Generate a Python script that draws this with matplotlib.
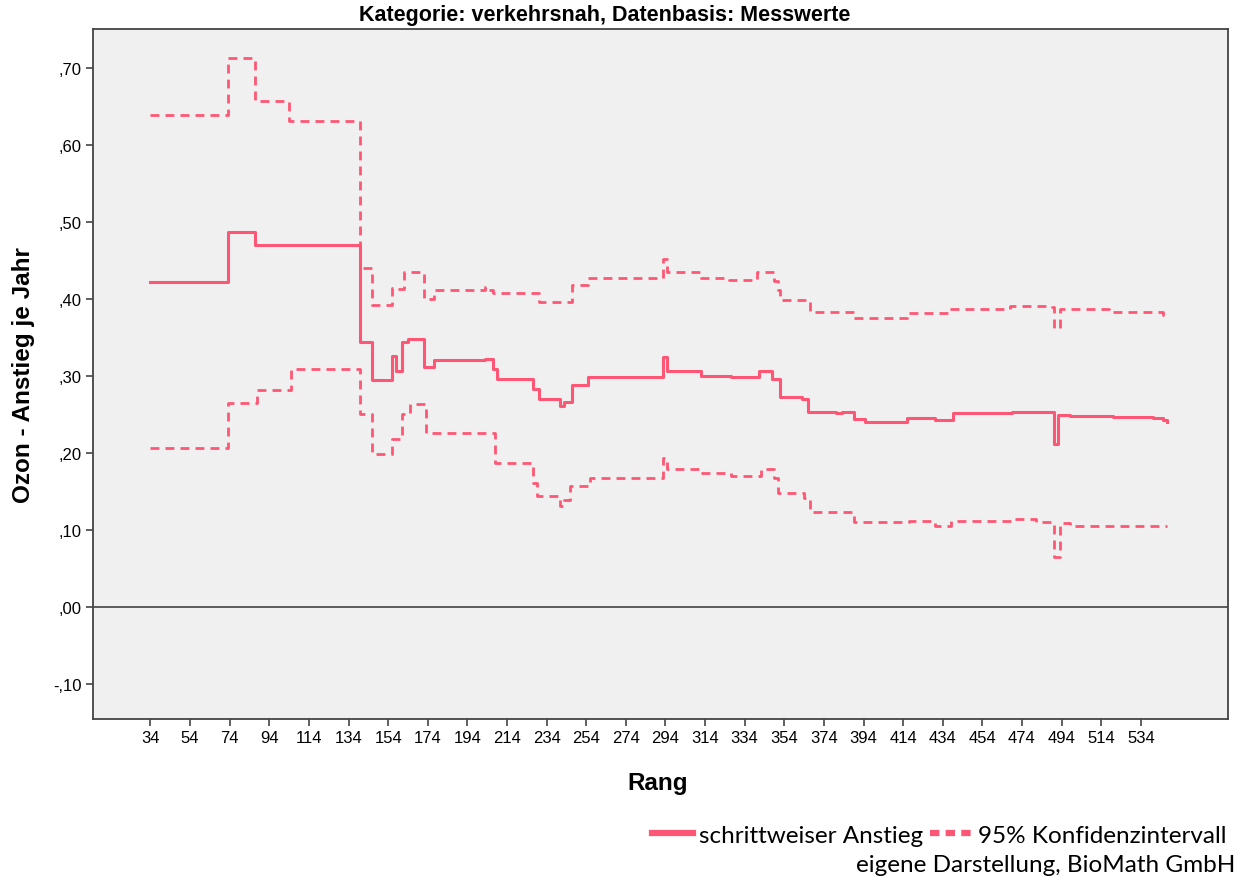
import matplotlib
matplotlib.use("Agg")
import matplotlib.pyplot as plt  # noqa: E402
from matplotlib.lines import Line2D  # noqa: E402

# Schrittweiser Anstieg (Schätzer) je Rang
rang_est = [34, 73, 87, 140, 146, 156, 158, 161, 164, 172, 177, 203, 207, 209,
            227, 230, 241, 243, 247, 255, 293, 295, 312, 327, 341, 348, 352,
            363, 366, 380, 383, 389, 395, 416, 430, 439, 469, 484, 490, 492,
            498, 520, 540, 545, 547]
est = [0.423, 0.488, 0.470, 0.345, 0.295, 0.326, 0.307, 0.344, 0.349, 0.312,
       0.321, 0.323, 0.309, 0.297, 0.284, 0.270, 0.261, 0.266, 0.289, 0.299,
       0.325, 0.307, 0.301, 0.299, 0.307, 0.297, 0.273, 0.270, 0.254, 0.252,
       0.254, 0.244, 0.241, 0.246, 0.243, 0.252, 0.254, 0.253, 0.212, 0.250,
       0.248, 0.247, 0.246, 0.243, 0.241]

# obere Grenze 95%-KI
rang_up = [34, 73, 87, 104, 140, 146, 156, 159, 162, 172, 177, 203, 204, 207,
           230, 247, 255, 293, 295, 312, 326, 340, 349, 351, 352, 367, 389,
           416, 437, 468, 489, 490, 493, 518, 545, 547]
upper = [0.639, 0.713, 0.658, 0.631, 0.441, 0.392, 0.415, 0.413, 0.435, 0.401,
         0.412, 0.416, 0.412, 0.408, 0.397, 0.418, 0.428, 0.452, 0.435, 0.427,
         0.425, 0.435, 0.424, 0.412, 0.399, 0.384, 0.376, 0.382, 0.387, 0.391,
         0.390, 0.363, 0.388, 0.384, 0.380, 0.376]

# untere Grenze 95%-KI
rang_lo = [34, 73, 88, 105, 140, 146, 156, 161, 165, 173, 208, 227, 229, 241,
           243, 246, 256, 293, 295, 312, 327, 342, 349, 351, 364, 367, 389,
           417, 430, 438, 469, 481, 490, 493, 498, 547]
lower = [0.207, 0.265, 0.282, 0.309, 0.251, 0.199, 0.218, 0.251, 0.264, 0.226,
         0.188, 0.162, 0.145, 0.132, 0.140, 0.158, 0.168, 0.194, 0.180, 0.174,
         0.171, 0.180, 0.168, 0.148, 0.142, 0.124, 0.111, 0.112, 0.105, 0.112,
         0.115, 0.111, 0.065, 0.110, 0.106, 0.106]

x_ticks = list(range(34, 535, 20))
y_ticks = [-0.10, 0.0, 0.10, 0.20, 0.30, 0.40, 0.50, 0.60, 0.70]
y_ticklabels = ["-,10", ",00", ",10", ",20", ",30", ",40", ",50", ",60", ",70"]

COLOR = "#FE5775"
DASH = (0, (3.2, 2.2))

plt.rcParams["font.family"] = ["Liberation Sans", "DejaVu Sans"]

fig = plt.figure(figsize=(12.52, 8.87), dpi=100)
ax = fig.add_axes([0.0743, 0.1883, 0.9065, 0.7779])
ax.set_facecolor("#F0F0F0")

ax.plot(rang_est, est, drawstyle="steps-post", color=COLOR, lw=2.2)
ax.plot(rang_up, upper, drawstyle="steps-post", color=COLOR, lw=2.0, linestyle=DASH)
ax.plot(rang_lo, lower, drawstyle="steps-post", color=COLOR, lw=2.0, linestyle=DASH)
ax.axhline(0, color="#333333", lw=1.1)

ax.set_xlim(5, 578)
ax.set_ylim(-0.145, 0.751)
ax.set_xticks(x_ticks)
ax.set_xticklabels([str(t) for t in x_ticks], fontsize=12)
ax.set_yticks(y_ticks)
ax.set_yticklabels(y_ticklabels, fontsize=12)
ax.tick_params(direction="out", length=5, width=1.2, color="#444444", pad=3)
for s in ax.spines.values():
    s.set_color("#444444")
    s.set_linewidth(1.3)

ax.set_ylabel("Ozon - Anstieg je Jahr", fontsize=17.5, fontweight="bold", labelpad=13)
fig.text(0.5256, 0.117, "Rang", ha="center", va="center", fontsize=17.5, fontweight="bold")
fig.text(0.483, 0.982, "Kategorie: verkehrsnah, Datenbasis: Messwerte",
         ha="center", va="center", fontsize=15.5, fontweight="bold")

handles = [Line2D([], [], color=COLOR, lw=4.5),
           Line2D([], [], color=COLOR, lw=4.5, linestyle=(0, (1.5, 1.0)))]
fig.legend(handles, ["schrittweiser Anstieg", "95% Konfidenzintervall"],
           loc="center right", bbox_to_anchor=(0.993, 0.0575), ncol=2,
           frameon=False, handlelength=1.7, handletextpad=0.25, columnspacing=0.3,
           borderpad=0.2, prop={"family": "Lato", "size": 17.5})
fig.text(0.987, 0.0237, "eigene Darstellung, BioMath GmbH", ha="right", va="center",
         family="Lato", fontsize=17.5)

fig.savefig("out.png", dpi=100)
